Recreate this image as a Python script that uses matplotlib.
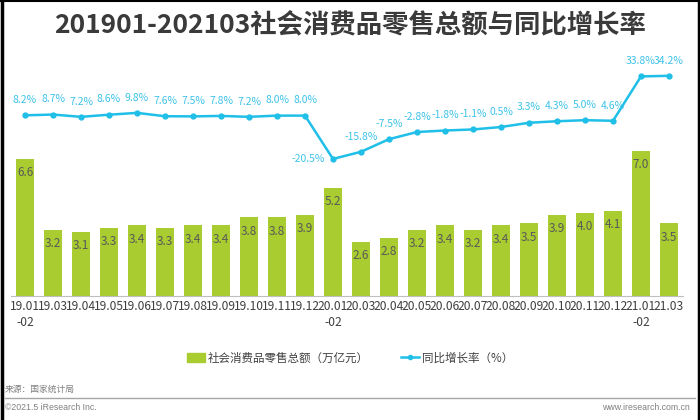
import numpy as np
import matplotlib.pyplot as plt
from matplotlib.patches import Patch
from matplotlib.lines import Line2D

plt.rcParams['font.family'] = ['Noto Sans CJK SC', 'DejaVu Sans']

months = ['19.01\n-02', '19.03', '19.04', '19.05', '19.06', '19.07', '19.08', '19.09',
          '19.10', '19.11', '19.12', '20.01\n-02', '20.03', '20.04', '20.05', '20.06',
          '20.07', '20.08', '20.09', '20.10', '20.11', '20.12', '21.01\n-02', '21.03']
sales = [6.6, 3.2, 3.1, 3.3, 3.4, 3.3, 3.4, 3.4, 3.8, 3.8, 3.9, 5.2,
         2.6, 2.8, 3.2, 3.4, 3.2, 3.4, 3.5, 3.9, 4.0, 4.1, 7.0, 3.5]
growth = [8.2, 8.7, 7.2, 8.6, 9.8, 7.6, 7.5, 7.8, 7.2, 8.0, 8.0, -20.5,
          -15.8, -7.5, -2.8, -1.8, -1.1, 0.5, 3.3, 4.3, 5.0, 4.6, 33.8, 34.2]

bar_col = '#A9CC30'
line_col = '#1FBFE8'
x = np.arange(len(months))

fig = plt.figure(figsize=(7, 4.2), dpi=100)

# eje principal: barras
ax = fig.add_axes([11/700, 124/420, 672/700, 236/420])
ax.bar(x, sales, width=0.63, color=bar_col, zorder=1)
ax.set_xlim(-0.5, len(months) - 0.5)
ax.set_ylim(0, 236/20.75)
for s in ['top', 'left', 'right']:
    ax.spines[s].set_visible(False)
ax.spines['bottom'].set_color('#BFBFBF')
ax.set_yticks([])
ax.set_xticks(x, months)
ax.tick_params(axis='x', length=0, pad=3, labelsize=8.7, labelcolor='#404040')
for lab in ax.get_xticklabels():
    lab.set_linespacing(1.25)
for i, v in enumerate(sales):
    ax.annotate(f'{v:.1f}', (i, v), xytext=(0, -10), textcoords='offset points',
                ha='center', va='center', fontsize=8.5, color='#595959')

# eje secundario: crecimiento
ax2 = ax.twinx()
ax2.plot(x, growth, color=line_col, lw=1.8, marker='o', ms=3.5, zorder=3)
ax2.set_ylim(-110.7, 44.6)
ax2.set_yticks([])
for s in ax2.spines.values():
    s.set_visible(False)
for i, v in enumerate(growth):
    if i == 11:
        ax2.annotate(f'{v:.1f}%', (i, v), xytext=(-6, 0), textcoords='offset points',
                     ha='right', va='center', fontsize=7.5, color='#3EC3EA')
    else:
        ax2.annotate(f'{v:.1f}%', (i, v), xytext=(0, 11), textcoords='offset points',
                     ha='center', va='center', fontsize=7.5, color='#3EC3EA')

fig.text(0.5, 1 - 25/420, '201901-202103社会消费品零售总额与同比增长率', ha='center', va='center',
         fontsize=19, fontweight='bold', color='#3A3A3A')

handles = [Patch(color=bar_col), Line2D([0], [0], color=line_col, lw=1.8, marker='o', ms=3)]
fig.legend(handles, ['社会消费品零售总额（万亿元）', '同比增长率（%）'], loc='center',
           bbox_to_anchor=(0.5, 1 - 358/420), ncol=2, frameon=False, fontsize=8.3,
           columnspacing=2.8, handlelength=1.6, handletextpad=0.2, labelcolor='#404040')

# pie de página
fig.text(5/700, 1 - 389/420, '来源：国家统计局', ha='left', va='center', fontsize=6.3, color='#808080')
fig.add_artist(Line2D([5/700, 695/700], [1 - 398/420] * 2, color='#A6A6A6', lw=1))
fig.text(5/700, 1 - 408/420, '©2021.5 iResearch Inc.', ha='left', va='center', fontsize=6.3,
         color='#808080', family=['Liberation Sans Narrow', 'Liberation Sans'])
fig.text(690/700, 1 - 408/420, 'www.iresearch.com.cn', ha='right', va='center', fontsize=6.3,
         color='#808080', family=['Liberation Sans Narrow', 'Liberation Sans'])

# marco negro
fig.add_artist(Line2D([1.5/700, 1.5/700], [0, 1], color='black', lw=2.5))
fig.add_artist(Line2D([698.5/700, 698.5/700], [0, 1], color='black', lw=2.5))
fig.add_artist(Line2D([0, 1], [1 - 1/420, 1 - 1/420], color='black', lw=1.5))

fig.savefig('out.png', dpi=100)
